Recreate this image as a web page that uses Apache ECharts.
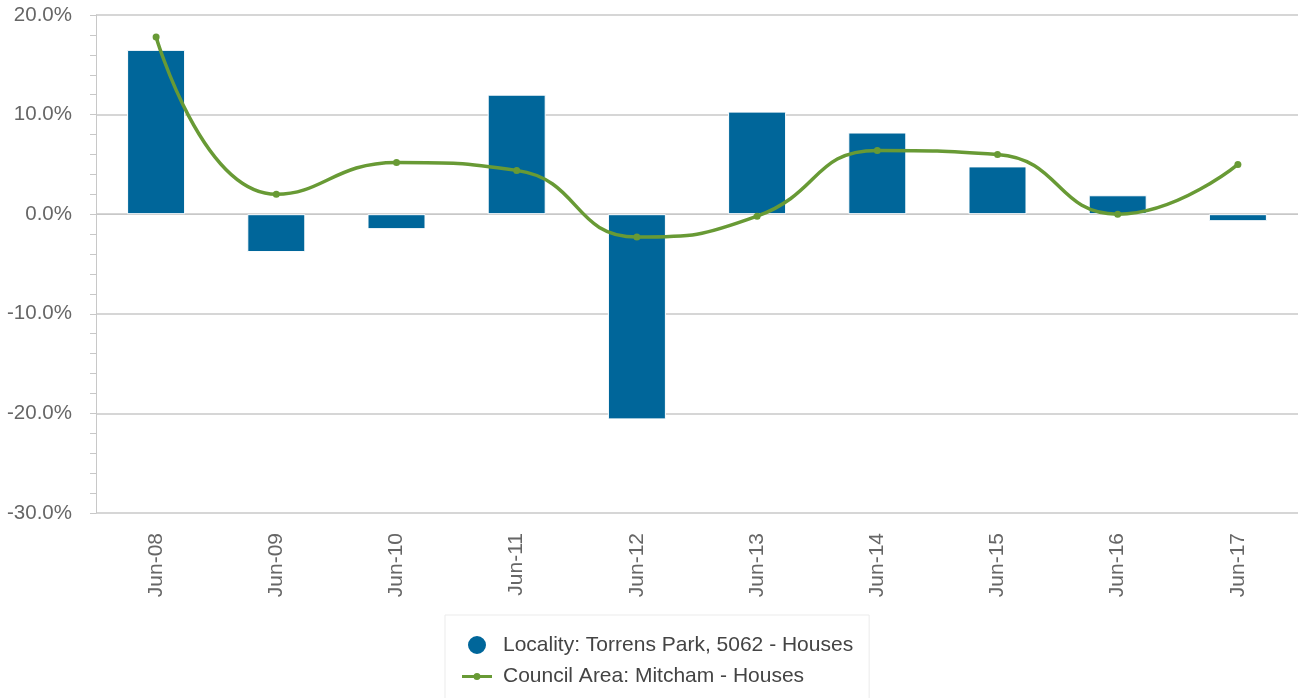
<!DOCTYPE html>
<html>
<head>
<meta charset="utf-8">
<style>
  html, body { margin: 0; padding: 0; background: #fff; }
  #chart { width: 1298px; height: 698px; }
</style>
<script src="https://cdn.jsdelivr.net/npm/echarts@6/dist/echarts.min.js"></script>
</head>
<body>
<div id="chart"></div>
<script>
var categories = ["Jun-08", "Jun-09", "Jun-10", "Jun-11", "Jun-12", "Jun-13", "Jun-14", "Jun-15", "Jun-16", "Jun-17"];
var localityValues = [16.5, -3.8, -1.5, 12.0, -20.6, 10.3, 8.2, 4.8, 1.9, -0.7];
var councilValues = [17.8, 2.0, 5.2, 4.4, -2.3, -0.2, 6.4, 6.0, 0.0, 5.0];
var localityName = "Locality: Torrens Park, 5062 - Houses";
var councilName = "Council Area: Mitcham - Houses";

// line + dot legend marker, like the original
var lineIcon = "path://M0,8.5L30,8.5L30,11.5L0,11.5Z M15,6.5A3.5,3.5,0,1,1,14.99,6.5Z";

var chart = echarts.init(document.getElementById("chart"));
chart.setOption({
  animation: false,
  textStyle: { fontFamily: "Liberation Sans, Arial, sans-serif" },
  grid: { left: 96, right: 0, top: 15, bottom: 185, containLabel: false },
  legend: {
    orient: "vertical",
    left: 445,
    top: 615,
    width: 390,
    height: 75,
    padding: [19, 16, 30, 17],
    itemGap: 10,
    itemWidth: 30,
    itemHeight: 20,
    borderColor: "#ebebeb",
    borderWidth: 1,
    textStyle: { fontSize: 21, color: "#444", padding: [0, 0, 0, 6] },
    data: [
      { name: localityName, icon: "circle", itemStyle: { color: "#00669a" } },
      { name: councilName, icon: lineIcon, itemStyle: { color: "#689a35" } }
    ]
  },
  xAxis: {
    type: "category",
    data: categories,
    axisLine: { lineStyle: { color: "#c8c8c8", width: 1 } },
    axisTick: { alignWithLabel: true, length: 10, lineStyle: { color: "#ccd6eb" } },
    axisLabel: { rotate: 90, margin: 20, fontSize: 21, color: "#666" },
    splitLine: { show: false }
  },
  yAxis: {
    type: "value",
    min: -30,
    max: 20,
    interval: 10,
    axisLine: { show: true, lineStyle: { color: "#c8c8c8" } },
    axisTick: { show: true, length: 6, lineStyle: { color: "#c8c8c8" } },
    minorTick: { show: true, splitNumber: 5, length: 6, lineStyle: { color: "#c8c8c8" } },
    splitLine: { lineStyle: { color: "#c8c8c8", width: 1.5 } },
    axisLabel: {
      margin: 24,
      fontSize: 20.5,
      color: "#666",
      formatter: function (v) { return v.toFixed(1) + "%"; }
    }
  },
  series: [
    {
      name: localityName,
      type: "bar",
      data: localityValues,
      barWidth: 58,
      itemStyle: { color: "#00669a", borderColor: "#fff", borderWidth: 1 }
    },
    {
      name: councilName,
      type: "line",
      data: councilValues,
      smooth: true,
      symbol: "circle",
      symbolSize: 7,
      lineStyle: { color: "#689a35", width: 3.5 },
      itemStyle: { color: "#689a35" }
    }
  ]
});
</script>
</body>
</html>
